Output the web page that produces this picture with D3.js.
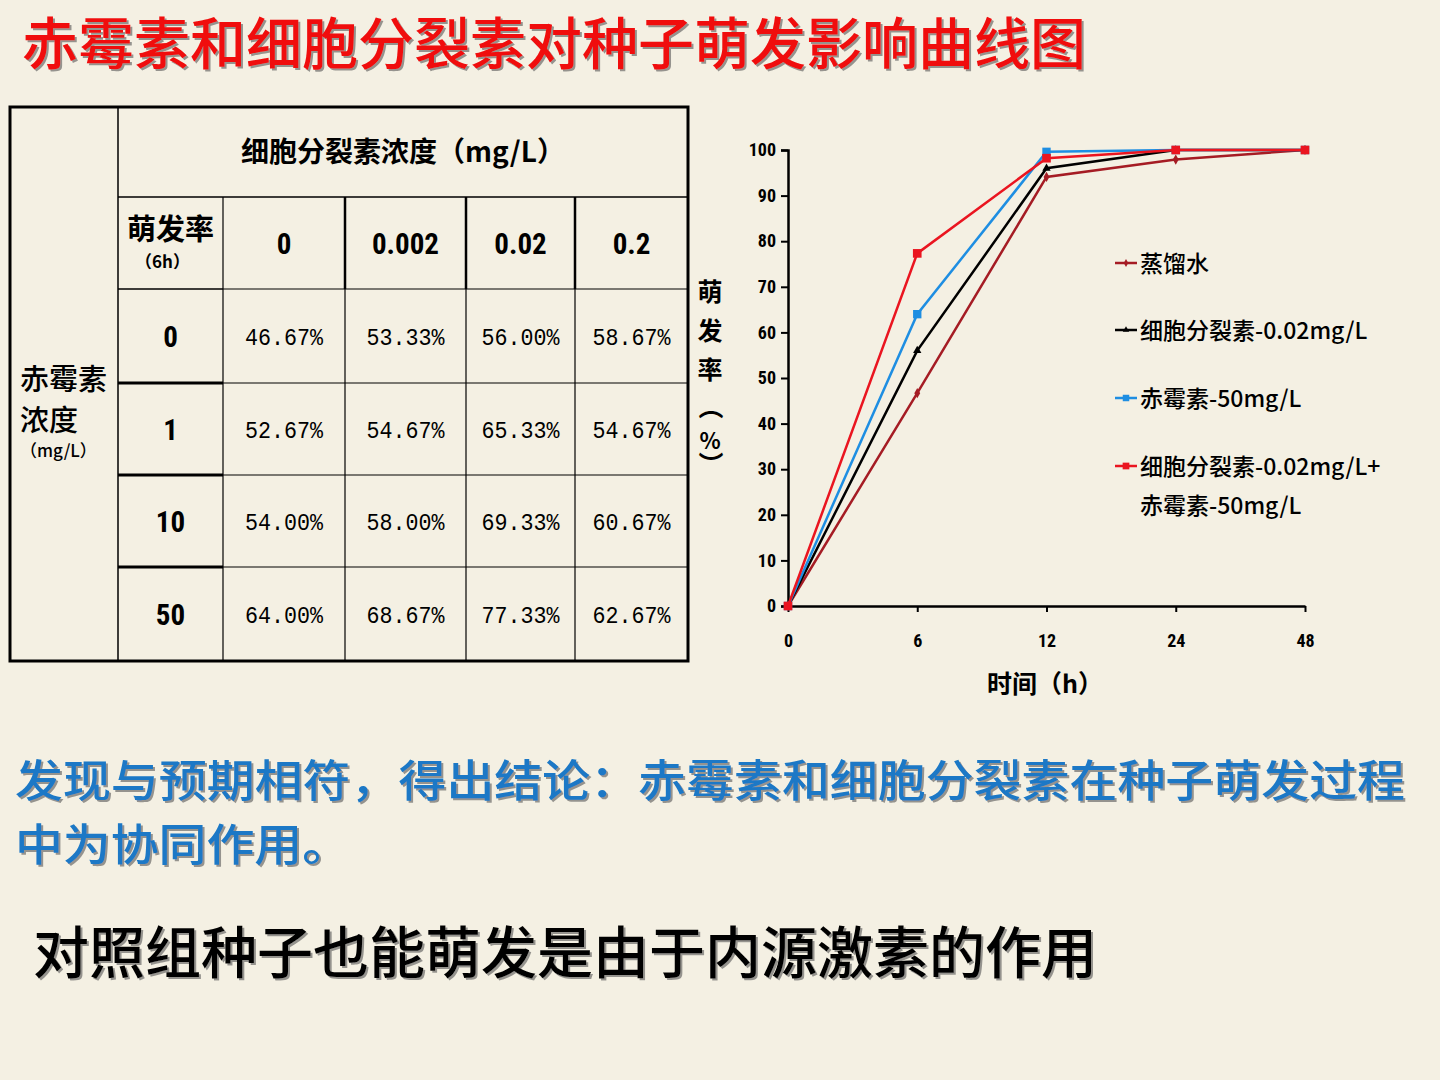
<!DOCTYPE html>
<meta charset="utf-8">
<style>
  body { margin: 0; background: #F4F0E3; }
  svg text { font-family: "Noto Sans CJK SC", sans-serif; }
</style>
<body>
<script src="https://d3js.org/d3.v7.min.js"></script>
<script>
// ---- data ----
var hours = ["0", "6", "12", "24", "48"];
var water = [0, 46.67, 94.1, 97.9, 100];
var cytokinin = [0, 56, 96, 100, 100];
var gibberellin = [0, 64, 99.6, 100, 100];
var combined = [0, 77.33, 98.2, 100, 100];
var seriesNames = ["蒸馏水", "细胞分裂素-0.02mg/L", "赤霉素-50mg/L", "细胞分裂素-0.02mg/L+赤霉素-50mg/L"];
var yTicks = [0, 10, 20, 30, 40, 50, 60, 70, 80, 90, 100];

var cytoLevels = ["0", "0.002", "0.02", "0.2"];
var gaLevels = ["0", "1", "10", "50"];
var rates6h = [
  [46.67, 53.33, 56.00, 58.67],
  [52.67, 54.67, 65.33, 54.67],
  [54.00, 58.00, 69.33, 60.67],
  [64.00, 68.67, 77.33, 62.67]
];

var width = 1440, height = 1080;

var svg = d3.select("body").append("svg")
    .attr("width", width)
    .attr("height", height);

var defs = svg.append("defs");
var sh = defs.append("filter").attr("id", "shadow")
    .attr("x", "-5%").attr("y", "-20%").attr("width", "110%").attr("height", "140%");
sh.append("feDropShadow").attr("dx", 2).attr("dy", 2).attr("stdDeviation", 0.6)
    .attr("flood-color", "#555").attr("flood-opacity", 0.6);

svg.append("rect").attr("width", width).attr("height", height).attr("fill", "#F4F0E3");

// ---- title and notes ----
svg.append("text")
    .attr("x", 22).attr("y", 64)
    .attr("font-size", 56).attr("font-weight", 500)
    .attr("fill", "#F00A0A")
    .attr("filter", "url(#shadow)")
    .text("赤霉素和细胞分裂素对种子萌发影响曲线图");

// conclusion, wrapped over two lines
var note = svg.append("text")
    .attr("font-size", 44).attr("font-weight", 500)
    .attr("fill", "#1B78C6")
    .attr("filter", "url(#shadow)");
note.append("tspan")
    .attr("x", 15).attr("y", 797)
    .attr("textLength", 1390).attr("lengthAdjust", "spacingAndGlyphs")
    .text("发现与预期相符，得出结论：赤霉素和细胞分裂素在种子萌发过程");
note.append("tspan")
    .attr("x", 15).attr("y", 861)
    .attr("textLength", 335).attr("lengthAdjust", "spacingAndGlyphs")
    .text("中为协同作用。");

svg.append("text")
    .attr("x", 33).attr("y", 973)
    .attr("font-size", 56).attr("font-weight", 500)
    .attr("fill", "#000")
    .attr("filter", "url(#shadow)")
    .text("对照组种子也能萌发是由于内源激素的作用");

// ---- table ----
var colX = [10, 118, 223, 345, 466, 575, 688];
var rowY = [107, 197, 289, 383, 475, 567, 661];
var tbl = svg.append("g");

function hline(y, x1, x2, w) {
  tbl.append("line").attr("x1", x1).attr("x2", x2).attr("y1", y).attr("y2", y)
    .attr("stroke", "#000").attr("stroke-width", w);
}
function vline(x, y1, y2, w) {
  tbl.append("line").attr("x1", x).attr("x2", x).attr("y1", y1).attr("y2", y2)
    .attr("stroke", "#000").attr("stroke-width", w);
}

vline(colX[1], rowY[0], rowY[6], 1.5);
vline(colX[2], rowY[1], rowY[6], 1.2);
[3, 4, 5].forEach(function(i) {
  vline(colX[i], rowY[1], rowY[2], 2.5);
  vline(colX[i], rowY[2], rowY[6], 1.2);
});
hline(rowY[1], colX[1], colX[6], 1.5);
[2, 3, 4, 5].forEach(function(i) {
  hline(rowY[i], colX[2], colX[6], 1.2);
  hline(rowY[i], colX[1], colX[2], i === 2 ? 1.5 : 3);
});
tbl.append("rect")
    .attr("x", colX[0]).attr("y", rowY[0])
    .attr("width", colX[6] - colX[0]).attr("height", rowY[6] - rowY[0])
    .attr("fill", "none").attr("stroke", "#000").attr("stroke-width", 3);

function cx(i) { return (colX[i] + colX[i + 1]) / 2; }
function cy(i) { return (rowY[i] + rowY[i + 1]) / 2; }

tbl.append("text")
    .attr("x", (colX[1] + colX[6]) / 2).attr("y", cy(0) + 10)
    .attr("text-anchor", "middle").attr("font-size", 28).attr("font-weight", 700)
    .text("细胞分裂素浓度（mg/L）");

tbl.append("text")
    .attr("x", cx(1)).attr("y", cy(1) - 3)
    .attr("text-anchor", "middle").attr("font-size", 29).attr("font-weight", 700)
    .text("萌发率");
tbl.append("text")
    .attr("x", cx(1) - 8).attr("y", cy(1) + 25)
    .attr("text-anchor", "middle").attr("font-size", 17).attr("font-weight", 700)
    .text("（6h）");

tbl.selectAll("text.cyto")
  .data(cytoLevels)
  .enter().append("text")
    .attr("class", "cyto")
    .attr("x", function(d, i) { return cx(i + 2); })
    .attr("y", cy(1) + 11)
    .attr("text-anchor", "middle").attr("font-size", 29).attr("font-weight", 700)
    .style("font-family", "Roboto Condensed, Roboto, sans-serif")
    .text(function(d) { return d; });

tbl.selectAll("text.ga")
  .data(gaLevels)
  .enter().append("text")
    .attr("class", "ga")
    .attr("x", cx(1))
    .attr("y", function(d, i) { return cy(i + 2) + 11; })
    .attr("text-anchor", "middle").attr("font-size", 29).attr("font-weight", 700)
    .style("font-family", "Roboto Condensed, Roboto, sans-serif")
    .text(function(d) { return d; });

tbl.append("text").attr("x", 20).attr("y", 390)
    .attr("font-size", 29).attr("font-weight", 500).text("赤霉素");
tbl.append("text").attr("x", 20).attr("y", 431)
    .attr("font-size", 29).attr("font-weight", 500).text("浓度");
tbl.append("text").attr("x", 20).attr("y", 457)
    .attr("font-size", 17).attr("font-weight", 500).text("（mg/L）");

rates6h.forEach(function(row, r) {
  tbl.selectAll("text.v" + r)
    .data(row)
    .enter().append("text")
      .attr("class", "v" + r)
      .attr("x", function(d, c) { return cx(c + 2); })
      .attr("y", cy(r + 2) + 9)
      .attr("text-anchor", "middle").attr("font-size", 23)
      .style("font-family", "Liberation Mono, monospace")
      .attr("textLength", 78).attr("lengthAdjust", "spacingAndGlyphs")
      .text(function(d) { return d.toFixed(2) + "%"; });
});

// ---- line chart ----
var x = d3.scalePoint().domain(hours).range([788, 1305]);
var y = d3.scaleLinear().domain([0, 100]).range([606, 150]);

var chart = svg.append("g");

var yAxis = chart.append("g")
    .attr("transform", "translate(788,0)")
    .call(d3.axisLeft(y).tickValues(yTicks).tickSize(7).tickPadding(5));
yAxis.select(".domain").attr("stroke-width", 2.5);
yAxis.selectAll(".tick line").attr("stroke-width", 2);
yAxis.selectAll(".tick text")
    .attr("font-size", 18).attr("font-weight", 700)
    .style("font-family", "Roboto Condensed, Roboto, sans-serif");

var xAxis = chart.append("g")
    .attr("transform", "translate(0,606)")
    .call(d3.axisBottom(x).tickSize(6).tickSizeOuter(0).tickPadding(22));
xAxis.select(".domain").attr("stroke-width", 2.5);
xAxis.selectAll(".tick line").attr("stroke-width", 2);
xAxis.selectAll(".tick text")
    .attr("font-size", 18).attr("font-weight", 700)
    .style("font-family", "Roboto Condensed, Roboto, sans-serif");

chart.append("text")
    .attr("x", 1045).attr("y", 693)
    .attr("text-anchor", "middle").attr("font-size", 25).attr("font-weight", 700)
    .text("时间（h）");

// vertical y-axis title, brackets turned sideways
var yTitle = ["萌", "发", "率", "（", "%", "）"];
var yTitleY = [292, 331, 370, 407, 441, 464];
chart.selectAll("text.ytitle")
  .data(yTitle)
  .enter().append("text")
    .attr("class", "ytitle")
    .attr("transform", function(d, i) {
      var t = "translate(710," + yTitleY[i] + ")";
      return (d === "（" || d === "）") ? t + " rotate(90)" : t;
    })
    .attr("dy", "0.36em")
    .attr("text-anchor", "middle")
    .attr("font-size", function(d) { return d === "%" ? 22 : 25; })
    .attr("font-weight", 700)
    .text(function(d) { return d; });

var series = [
  { name: seriesNames[0], values: water, color: "#A51C24", shape: d3.symbolDiamond, size: 30 },
  { name: seriesNames[1], values: cytokinin, color: "#000000", shape: d3.symbolTriangle, size: 30 },
  { name: seriesNames[2], values: gibberellin, color: "#1E8EE2", shape: d3.symbolSquare, size: 70 },
  { name: seriesNames[3], values: combined, color: "#EA1520", shape: d3.symbolSquare, size: 75 }
];

var line = d3.line()
    .x(function(d, i) { return x(hours[i]); })
    .y(function(d) { return y(d); });

series.forEach(function(s) {
  var g = chart.append("g");
  g.append("path")
      .attr("d", line(s.values))
      .attr("fill", "none")
      .attr("stroke", s.color)
      .attr("stroke-width", 2.5);
  g.selectAll("path.pt")
    .data(s.values)
    .enter().append("path")
      .attr("class", "pt")
      .attr("transform", function(d, i) { return "translate(" + x(hours[i]) + "," + y(d) + ")"; })
      .attr("d", d3.symbol().type(s.shape).size(s.size))
      .attr("fill", s.color);
});

// ---- legend ----
var legendY = [263, 330, 398, 466];
var legend = chart.selectAll("g.legend")
  .data(series)
  .enter().append("g")
    .attr("class", "legend")
    .attr("transform", function(d, i) { return "translate(1115," + legendY[i] + ")"; });
legend.append("line")
    .attr("x1", 0).attr("x2", 22).attr("y1", 0).attr("y2", 0)
    .attr("stroke", function(d) { return d.color; })
    .attr("stroke-width", 2.5);
legend.append("path")
    .attr("transform", "translate(11,0)")
    .attr("d", function(d) { return d3.symbol().type(d.shape).size(d.size * 0.6)(); })
    .attr("fill", function(d) { return d.color; });
legend.append("text")
    .attr("x", 25).attr("y", 9)
    .attr("font-size", 23).attr("font-weight", 500)
    .each(function(d) {
      var parts = d.name.split("+");
      var t = d3.select(this);
      parts.forEach(function(p, j) {
        t.append("tspan")
          .attr("x", 25)
          .attr("dy", j === 0 ? 0 : 39)
          .text(j < parts.length - 1 ? p + "+" : p);
      });
    });
</script>
</body>
</html>
